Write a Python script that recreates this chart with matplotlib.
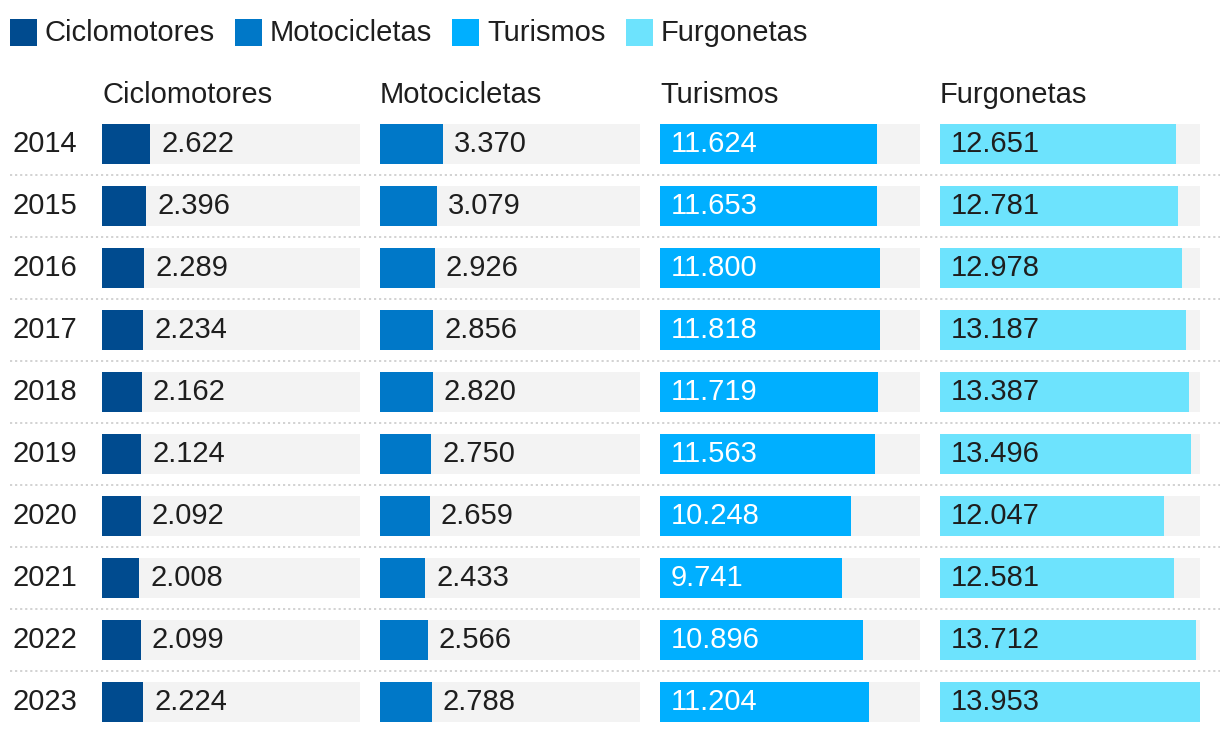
import matplotlib.pyplot as plt
from matplotlib.patches import Rectangle

plt.rcParams['font.family'] = ['Liberation Sans', 'DejaVu Sans']

# Matriculaciones por tipo de vehiculo
years = ['2014', '2015', '2016', '2017', '2018', '2019', '2020', '2021', '2022', '2023']
categories = ['Ciclomotores', 'Motocicletas', 'Turismos', 'Furgonetas']
ciclomotores = [2622, 2396, 2289, 2234, 2162, 2124, 2092, 2008, 2099, 2224]
motocicletas = [3370, 3079, 2926, 2856, 2820, 2750, 2659, 2433, 2566, 2788]
turismos = [11624, 11653, 11800, 11818, 11719, 11563, 10248, 9741, 10896, 11204]
furgonetas = [12651, 12781, 12978, 13187, 13387, 13496, 12047, 12581, 13712, 13953]

series = [ciclomotores, motocicletas, turismos, furgonetas]
colors = ['#004b8f', '#0078c8', '#00afff', '#6de3fd']
inside_text = ['#1e1e1e', '#1e1e1e', '#ffffff', '#1e1e1e']
TXT = '#1e1e1e'
FS = 21

W, H = 1220, 732
fig = plt.figure(figsize=(W / 100, H / 100), dpi=100)

# overlay axes in pixel coordinates for legend, labels and separators
ov = fig.add_axes([0, 0, 1, 1])
ov.set_xlim(0, W)
ov.set_ylim(H, 0)
ov.axis('off')

vmax = max(max(s) for s in series)
n = len(years)
row_h = 62
first_center = 144
bar_px = 40
half = bar_px / 2 / row_h

# legend
renderer = fig.canvas.get_renderer()
x = 10
for name, c in zip(categories, colors):
    ov.add_patch(Rectangle((x, 19), 27, 27, color=c, lw=0))
    t = ov.text(x + 35, 30, name, fontsize=FS, color=TXT, va='center_baseline', ha='left')
    bb = t.get_window_extent(renderer)
    x = bb.x1 + 20

# year labels and separators
for i, y in enumerate(years):
    yc = first_center + i * row_h
    ov.text(12, yc - 3, y, fontsize=FS, color=TXT, va='center_baseline', ha='left')
    if i < n - 1:
        ov.plot([10, W], [yc + row_h / 2, yc + row_h / 2], color='#cfcfcf',
                lw=1.3, ls=(0, (1.2, 1.6)))

panel_left = [102, 380, 660, 940]
panel_w = [258, 260, 260, 260]
top_px = first_center - bar_px / 2
bot_px = first_center + (n - 1) * row_h + bar_px / 2

for k, (name, vals) in enumerate(zip(categories, series)):
    ov.text(panel_left[k], 92, name, fontsize=FS, color=TXT, va='center_baseline', ha='left')
    ax = fig.add_axes([panel_left[k] / W, 1 - bot_px / H,
                       panel_w[k] / W, (bot_px - top_px) / H])
    ax.set_xlim(0, vmax)
    ax.set_ylim(n - 1 + half, -half)
    ax.axis('off')
    ypos = list(range(n))
    ax.barh(ypos, [vmax] * n, height=2 * half, color='#f3f3f3', lw=0)
    ax.barh(ypos, vals, height=2 * half, color=colors[k], lw=0)
    for i, v in enumerate(vals):
        label = f'{v:,}'.replace(',', '.')
        if v > 0.4 * vmax:
            ax.annotate(label, (0, i), xytext=(11, 3), textcoords='offset pixels',
                        va='center_baseline', ha='left', fontsize=FS, color=inside_text[k])
        else:
            ax.annotate(label, (v, i), xytext=(11, 3), textcoords='offset pixels',
                        va='center_baseline', ha='left', fontsize=FS, color=TXT)

fig.savefig('out.png', dpi=100)
